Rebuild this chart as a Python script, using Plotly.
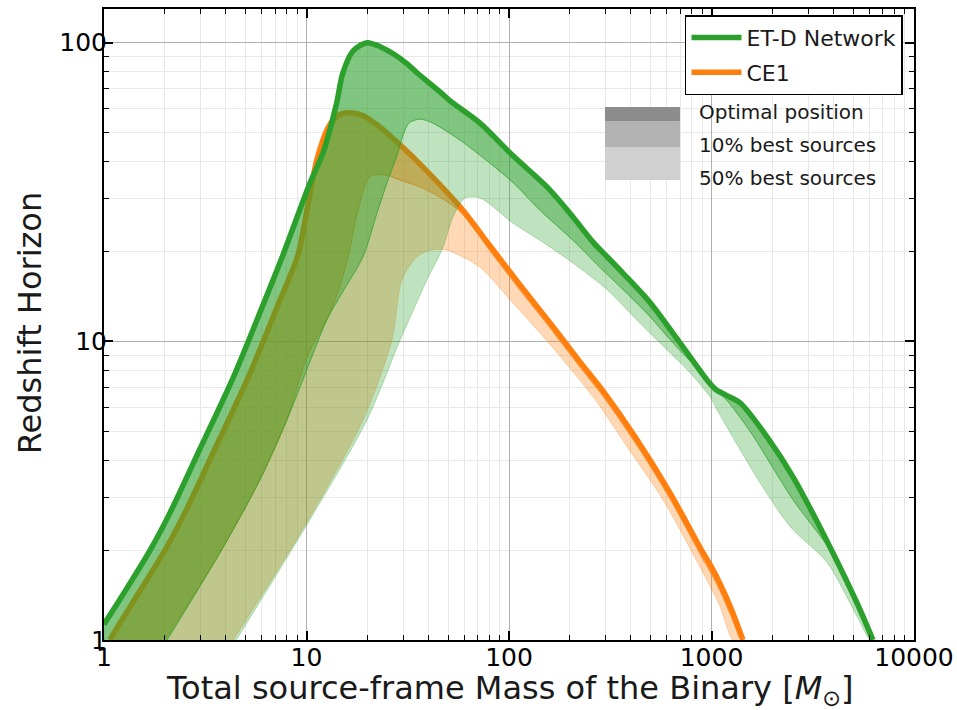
import math
import plotly.graph_objects as go

# ---------------------------------------------------------------
# Redshift horizon vs total source-frame mass (log-log)
# ---------------------------------------------------------------

# ET-D network: optimally oriented source
et_opt_m = [1.0, 1.2, 1.69, 2.12, 2.98, 4.34, 6.1, 7.66, 10.4, 12.1, 14.1, 15.1,
            17.0, 19.9, 23.1, 26.7, 31.4, 35.0, 45.6, 51.0, 71.9, 104.7, 154, 207, 260, 305,
            366, 497, 699, 950, 1050, 1166, 1383, 1880, 2525, 3846, 5230, 6270]
et_opt_z = [1.13, 1.37, 2.0, 2.67, 4.37, 7.55, 13.25, 19.5, 33.9, 43.0, 63.0, 79.0,
            94.0, 100.0, 97.0, 92.0, 85.0, 79.5, 68.5, 64.0, 53.8, 41.8, 32.9, 26.1, 21.5, 19.2,
            16.9, 13.5, 9.89, 7.43, 6.9, 6.63, 6.23, 4.79, 3.52, 2.05, 1.33, 1.0]

# ET-D network: 10% best sources
et_p10_m = [2.05, 3.74, 5.89, 8.0, 9.6, 12.6, 14.6, 19.0, 22.3, 25.0, 28.0, 30.0, 32.0, 36.3,
            42.1, 59.3, 104.7, 142, 207, 281, 366, 497, 645, 848, 984, 1166, 1549, 2525, 3846,
            5230, 6270]
et_p10_z = [1.0, 1.96, 3.44, 5.46, 7.44, 11.8, 14.1, 19.2, 26.9, 34.0, 42.0, 49.0, 53.8, 55.5,
            53.8, 46.4, 34.0, 27.5, 21.8, 17.7, 14.9, 12.1, 9.89, 8.1, 7.15, 6.45, 5.0, 2.95, 2.0,
            1.3, 1.0]

# ET-D network: 50% best sources
et_p50_m = [4.5, 10.4, 19.9, 29.0, 33.5, 39.4, 47.0, 52.9, 60.6, 71.9, 104.7, 142, 207, 305,
            444, 603, 783, 984, 1065, 1738, 2443, 3716, 5230, 6065]
et_p50_z = [1.0, 2.53, 5.46, 10.1, 12.6, 16.1, 20.5, 26.1, 30.2, 30.2, 24.9, 21.8, 18.3, 14.9,
            11.5, 9.37, 7.85, 6.52, 5.9, 3.36, 2.4, 1.82, 1.2, 1.0]

# CE1: optimally oriented source
ce_opt_m = [1.07, 1.19, 1.42, 2.0, 2.51, 3.53, 5.14, 7.23, 9.08, 10.2, 11.3, 13.0, 14.6, 16.4,
            19.0, 21.3, 23.1, 28.0, 33.6, 57.3, 80.5, 113.3, 159.4, 224, 291, 428.6, 623.7,
            908, 1000, 1102, 1250, 1430]
ce_opt_z = [1.0, 1.13, 1.37, 2.0, 2.67, 4.37, 7.55, 13.25, 19.5, 29.0, 41.0, 53.0, 57.5, 58.3,
            57.0, 54.3, 52.2, 46.5, 41.4, 28.2, 20.9, 15.45, 11.53, 8.54, 6.83, 4.68, 3.11,
            1.96, 1.754, 1.545, 1.274, 1.0]

# CE1: 10% best sources
ce_p10_m = [2.0, 3.74, 5.89, 8.0, 10.06, 13.1, 15.8, 17.8, 19.9, 21.0, 25.0, 28.0, 39.4, 57.3,
            80.5, 113.3, 159.4, 224, 291, 428.6, 623.7, 908, 1000, 1102, 1250, 1400]
ce_p10_z = [1.0, 1.96, 3.44, 5.46, 8.87, 12.5, 18.3, 26.9, 34.5, 36.0, 36.0, 35.0, 32.1, 27.2,
            20.1, 14.85, 11.1, 8.2, 6.55, 4.48, 2.97, 1.86, 1.66, 1.46, 1.2, 1.0]

# CE1: 50% best sources
ce_p50_m = [4.34, 10.1, 19.0, 26.4, 29.6, 35.1, 40.7, 49.2, 71.9, 101, 113, 165, 260, 383,
            576, 908, 1100, 1277]
ce_p50_z = [1.0, 2.5, 5.46, 10.1, 16.1, 19.2, 20.2, 20.2, 17.7, 13.8, 12.7, 9.5, 6.52, 4.44,
            2.95, 1.68, 1.3, 1.0]

# axis extents and labels
X_MIN, X_MAX = 1, 10000
Y_MIN, Y_MAX = 1, 129.7
x_ticks = [1, 10, 100, 1000, 10000]
x_tick_text = ["1", "10", "100", "1000", "10000"]
y_ticks = [1, 10, 100]
y_tick_text = ["1", "10", "100"]

band_labels = ["Optimal position", "10% best sources", "50% best sources"]
band_greys = ["#8c8c8c", "#b3b3b3", "#d0d0d0"]

GREEN = "44,160,44"
ORANGE = "255,127,14"
DARK_ALPHA = 0.6
LIGHT_ALPHA = 0.3
SMOOTH = 0.8


def band(upper_m, upper_z, lower_m, lower_z, rgb, alpha, corner=None):
    """Closed polygon between an upper and a lower curve."""
    xs = list(upper_m) + list(lower_m)[::-1]
    ys = list(upper_z) + list(lower_z)[::-1]
    if corner is not None:
        xs = [corner[0]] + xs
        ys = [corner[1]] + ys
    return go.Scatter(
        x=xs, y=ys, mode="lines", fill="toself",
        fillcolor=f"rgba({rgb},{alpha})",
        line=dict(color=f"rgba({rgb},{alpha})", width=1, shape="spline", smoothing=SMOOTH),
        hoverinfo="skip", showlegend=False,
    )


def curve(m, z, rgb, name, group, rank):
    return go.Scatter(x=m, y=z, mode="lines", name=name, legendgroup=group, legendrank=rank,
                      line=dict(color=f"rgb({rgb})", width=5.5, shape="spline",
                                smoothing=SMOOTH))


fig = go.Figure()

# CE1 envelopes and curve
fig.add_trace(band(ce_p10_m, ce_p10_z, ce_p50_m, ce_p50_z, ORANGE, LIGHT_ALPHA))
fig.add_trace(band(ce_opt_m, ce_opt_z, ce_p10_m, ce_p10_z, ORANGE, DARK_ALPHA))
fig.add_trace(curve(ce_opt_m, ce_opt_z, ORANGE, "CE1", "ce", 2))

# ET-D envelopes and curve
fig.add_trace(band(et_p10_m, et_p10_z, et_p50_m, et_p50_z, GREEN, LIGHT_ALPHA))
fig.add_trace(band(et_opt_m, et_opt_z, et_p10_m, et_p10_z, GREEN, DARK_ALPHA,
                   corner=(X_MIN, Y_MIN)))
fig.add_trace(curve(et_opt_m, et_opt_z, GREEN, "ET-D Network", "et", 1))

# minor tick positions (2..9 within each decade)
minor_x = [k * 10 ** d for d in range(0, 4) for k in range(2, 10)]
minor_y = [k * 10 ** d for d in range(0, 3) for k in range(2, 10) if k * 10 ** d < Y_MAX]

axis_common = dict(
    type="log", ticks="inside", ticklen=9, tickwidth=1.5, tickcolor="black",
    showline=True, linecolor="black", linewidth=2, mirror="allticks",
    showgrid=True, gridcolor="#b0b0b0", gridwidth=1, zeroline=False, automargin=False,
    tickfont=dict(size=25, color="black", family="DejaVu Sans"),
)

fig.update_xaxes(
    range=[math.log10(X_MIN), math.log10(X_MAX)],
    tickvals=x_ticks, ticktext=x_tick_text, ticklabelstandoff=-6,
    minor=dict(tickvals=minor_x, ticks="inside", ticklen=5, tickwidth=1, tickcolor="black",
               showgrid=True, gridcolor="#e9e9e9", gridwidth=1),
    **axis_common,
)
fig.update_yaxes(
    range=[math.log10(Y_MIN), math.log10(Y_MAX)],
    tickvals=y_ticks, ticktext=y_tick_text, ticklabelstandoff=-10,
    minor=dict(tickvals=minor_y, ticks="inside", ticklen=5, tickwidth=1, tickcolor="black",
               showgrid=True, gridcolor="#e9e9e9", gridwidth=1),
    **axis_common,
)

# grey key for the envelope shading
key_x0, key_x1 = 0.6185, 0.7111
key_edges = [0.8447, 0.8225, 0.7813, 0.729]
key_text_y = [0.8368, 0.7845, 0.7322]
shapes = []
annotations = []
for i, (label, grey) in enumerate(zip(band_labels, band_greys)):
    shapes.append(dict(type="rect", xref="paper", yref="paper",
                       x0=key_x0, x1=key_x1, y0=key_edges[i + 1], y1=key_edges[i],
                       fillcolor=grey, line=dict(width=0), layer="above"))
    annotations.append(dict(text=label, xref="paper", yref="paper", x=0.732, y=key_text_y[i],
                            xanchor="left", yanchor="middle", showarrow=False,
                            font=dict(size=20, color="#1a1a1a", family="DejaVu Sans")))

# axis titles
annotations.append(dict(text="Total source-frame Mass of the Binary [<i>M</i><sub>⊙</sub>]",
                        xref="paper", yref="paper", x=0.501, y=-0.079,
                        xanchor="center", yanchor="middle", showarrow=False,
                        font=dict(size=32, color="#1a1a1a", family="DejaVu Sans")))
annotations.append(dict(text="Redshift Horizon", xref="paper", yref="paper", x=-0.0914, y=0.502,
                        xanchor="center", yanchor="middle", showarrow=False, textangle=-90,
                        font=dict(size=32, color="#1a1a1a", family="DejaVu Sans")))

fig.update_layout(
    width=957, height=710,
    margin=dict(l=104, r=43, t=9, b=70),
    paper_bgcolor="white", plot_bgcolor="white",
    font=dict(family="DejaVu Sans", color="black"),
    showlegend=True,
    legend=dict(x=0.9864, y=0.99, xanchor="right", yanchor="top",
                bordercolor="black", borderwidth=1.5, bgcolor="white",
                traceorder="grouped", tracegroupgap=3, itemwidth=50,
                font=dict(size=22, color="#1a1a1a", family="DejaVu Sans")),
    shapes=shapes,
    annotations=annotations,
)

fig.write_html("out.html")
